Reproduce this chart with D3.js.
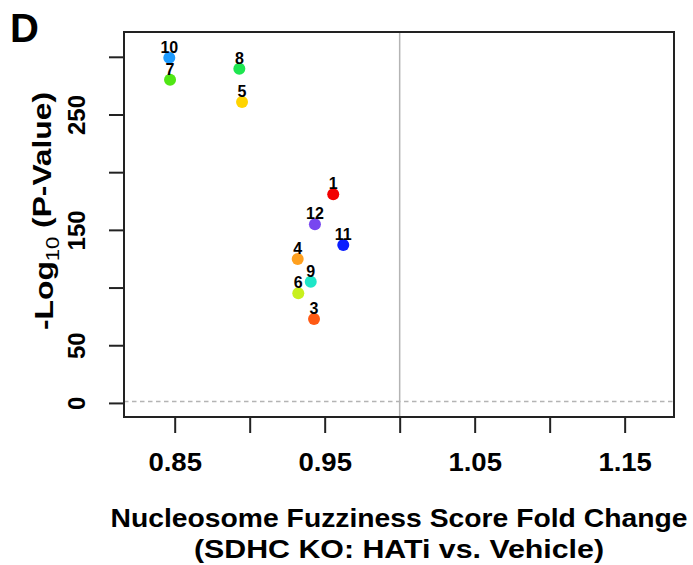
<!DOCTYPE html>
<html>
<head>
<meta charset="utf-8">
<script src="https://cdn.jsdelivr.net/npm/d3@7"></script>
<style>
  body { margin: 0; background: #fff; }
  svg { display: block; font-family: "Liberation Sans", Arial, sans-serif; }
</style>
</head>
<body>
<svg></svg>
<script>
// cluster ids, fold change (x) and -log10 p (y)
var clusterIds = [1, 3, 4, 5, 6, 7, 8, 9, 10, 11, 12];
var foldChange = [0.9557, 0.9429, 0.9320, 0.8949, 0.9324, 0.8469, 0.8931, 0.9407, 0.8464, 0.9624, 0.9435];
var negLogP = [180.9, 72.7, 124.7, 260.8, 95.0, 280.1, 289.7, 105.0, 299.2, 136.9, 154.9];
var clusterColors = ["#F20000", "#FF5A14", "#FFA01E", "#FFD400", "#C8F01E", "#50E614",
                     "#1EE650", "#1EE6C8", "#1E9BFF", "#0A1EFF", "#7846F0"];

var xTicks = [0.85, 0.90, 0.95, 1.00, 1.05, 1.10, 1.15];
var xTickLabels = ["0.85", "0.95", "1.05", "1.15"];
var yTicks = [0, 50, 100, 150, 200, 250, 300];
var yTickLabels = ["0", "50", "150", "250"];

var refFold = 1.0;          // no-change line
var sigLine = 1.3;          // -log10(0.05)

document.addEventListener("DOMContentLoaded", function() {

    var width = 693, height = 565;
    var left = 124, right = 674, top = 32, bottom = 417;
    var midX = (left + right) / 2;

    var svg = d3.select("svg")
                .attr("width", width)
                .attr("height", height);

    var data = clusterIds.map(function(id, i) {
        return { id: id, fc: foldChange[i], p: negLogP[i], color: clusterColors[i] };
    });

    var xScale = d3.scaleLinear()
                   .domain([0.8162, 1.1829])
                   .range([left, right]);
    var yScale = d3.scaleLinear()
                   .domain([-12.2, 321.5])
                   .range([bottom, top]);

    // reference lines
    svg.append("line")
        .attr("x1", xScale(refFold)).attr("x2", xScale(refFold))
        .attr("y1", top).attr("y2", bottom)
        .attr("stroke", "#b4b4b4").attr("stroke-width", 1.5);

    svg.append("line")
        .attr("x1", left).attr("x2", right)
        .attr("y1", yScale(sigLine)).attr("y2", yScale(sigLine))
        .attr("stroke", "#b4b4b4").attr("stroke-width", 1.5)
        .attr("stroke-dasharray", "4.5,3.5");

    // axes
    var xAxis = d3.axisBottom(xScale)
                  .tickValues(xTicks)
                  .tickSize(16)
                  .tickPadding(20)
                  .tickFormat(function(d) {
                      var s = d.toFixed(2);
                      return xTickLabels.indexOf(s) >= 0 ? s : "";
                  });

    var gx = svg.append("g")
        .attr("transform", `translate(0,${bottom})`)
        .call(xAxis);
    gx.select(".domain").remove();
    gx.selectAll("line").attr("stroke", "#222").attr("stroke-width", 2);
    gx.selectAll("text")
        .attr("fill", "#000")
        .attr("transform", "scale(1.1,1)")
        .style("font-size", "25px")
        .style("font-weight", "bold");

    var yAxis = d3.axisLeft(yScale)
                  .tickValues(yTicks)
                  .tickSize(15)
                  .tickFormat(function(d) {
                      return yTickLabels.indexOf(String(d)) >= 0 ? d : "";
                  });

    var gy = svg.append("g")
        .attr("transform", `translate(${left},0)`)
        .call(yAxis);
    gy.select(".domain").remove();
    gy.selectAll("line").attr("stroke", "#222").attr("stroke-width", 2);
    gy.selectAll("text")
        .attr("fill", "#000")
        .attr("x", 0).attr("y", 0).attr("dy", "0.35em")
        .attr("text-anchor", "middle")
        .attr("transform", "translate(-47,0) rotate(-90)")
        .style("font-size", "24px")
        .style("font-weight", "bold");

    // plot frame
    svg.append("rect")
        .attr("x", left).attr("y", top)
        .attr("width", right - left).attr("height", bottom - top)
        .attr("fill", "none")
        .attr("stroke", "#222").attr("stroke-width", 2);

    // points with their cluster numbers
    svg.selectAll("circle.pt")
      .data(data)
      .enter()
        .append("circle")
        .attr("class", "pt")
        .attr("cx", d => xScale(d.fc))
        .attr("cy", d => yScale(d.p))
        .attr("r", 6)
        .attr("fill", d => d.color);

    svg.selectAll("text.pt-label")
      .data(data)
      .enter()
        .append("text")
        .attr("class", "pt-label")
        .attr("x", d => xScale(d.fc))
        .attr("y", d => yScale(d.p) - 5)
        .attr("text-anchor", "middle")
        .style("font-size", "16px")
        .style("font-weight", "bold")
        .text(d => d.id);

    // titles
    var yTitle = svg.append("text")
        .attr("transform", "translate(44,211) rotate(-90)")
        .attr("text-anchor", "middle")
        .attr("dy", "0.35em")
        .attr("textLength", 238)
        .attr("lengthAdjust", "spacingAndGlyphs")
        .style("font-size", "26px")
        .style("font-weight", "bold");
    yTitle.append("tspan").text("-Log");
    yTitle.append("tspan")
        .attr("dy", "0.3em")
        .style("font-size", "18px")
        .style("font-weight", "normal")
        .text("10");
    yTitle.append("tspan").attr("dy", "-0.3em").text(" (P-Value)");

    svg.append("text")
        .attr("x", midX).attr("y", 527)
        .attr("text-anchor", "middle")
        .attr("textLength", 577)
        .attr("lengthAdjust", "spacingAndGlyphs")
        .style("font-size", "26px")
        .style("font-weight", "bold")
        .text("Nucleosome Fuzziness Score Fold Change");

    svg.append("text")
        .attr("x", midX).attr("y", 558)
        .attr("text-anchor", "middle")
        .attr("textLength", 410)
        .attr("lengthAdjust", "spacingAndGlyphs")
        .style("font-size", "26px")
        .style("font-weight", "bold")
        .text("(SDHC KO: HATi vs. Vehicle)");

    svg.append("text")
        .attr("x", 10).attr("y", 42)
        .style("font-size", "40px")
        .style("font-weight", "bold")
        .text("D");
});
</script>
</body>
</html>
